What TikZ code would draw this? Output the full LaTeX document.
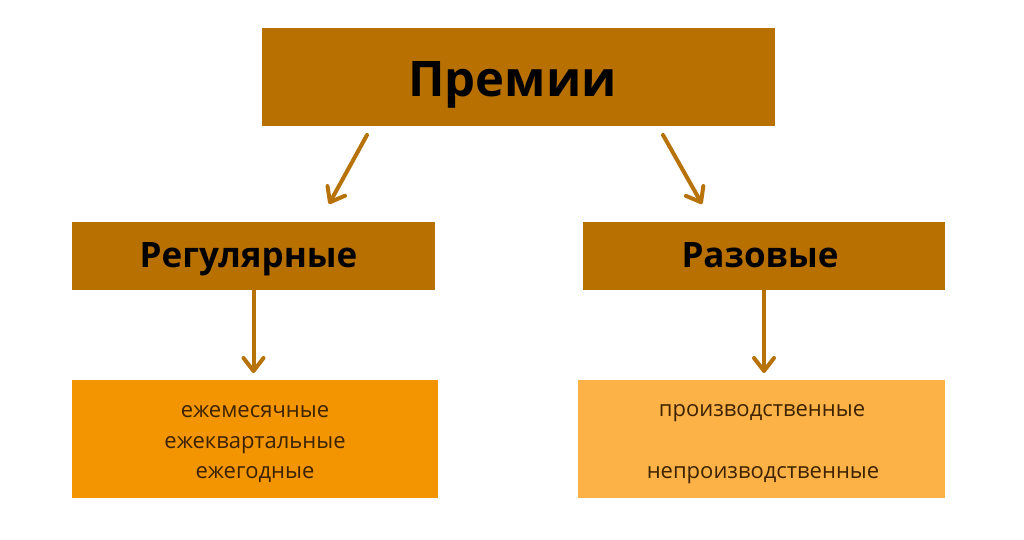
\documentclass[tikz,border=0pt]{standalone}
\usepackage{fontspec}
\setmainfont{Open Sans}
\usetikzlibrary{arrows.meta}
\definecolor{hdr}{HTML}{B87000}
\definecolor{lbox}{HTML}{F29500}
\definecolor{rbox}{HTML}{FCB246}
\definecolor{arr}{HTML}{B8720A}
\definecolor{txt}{HTML}{3D2300}
\begin{document}
\begin{tikzpicture}[x=1pt,y=-1pt,
  hbox/.style={fill=hdr,draw=none,inner sep=0pt},
  lowbox/.style={draw=none,inner sep=0pt},
  htxt/.style={anchor=base,inner sep=0pt,text=black},
  ltxt/.style={anchor=base,inner sep=0pt,text=txt,font=\fontsize{22}{26}\selectfont},
  conn/.style={draw=arr,line width=4pt,-{Straight Barb[length=13pt,width=20pt,line width=4pt,round]}}]
\useasboundingbox[fill=white] (0,0) rectangle (1024,539);
\node[hbox,minimum width=513pt,minimum height=98pt] (top) at (518.5,77) {};
\node[hbox,minimum width=363pt,minimum height=68pt] (reg) at (253.5,256) {};
\node[hbox,minimum width=362pt,minimum height=68pt] (raz) at (764,256) {};
\node[lowbox,fill=lbox,minimum width=366pt,minimum height=118pt] (lb) at (255,439) {};
\node[lowbox,fill=rbox,minimum width=367pt,minimum height=118pt] (rb) at (761.5,439) {};
\node[htxt,font=\fontsize{49}{52}\bfseries] (ttop) at (512.5,96) {Премии};
\node[htxt,font=\fontsize{35}{38}\bfseries] (treg) at (248.5,267) {Регулярные};
\node[htxt,font=\fontsize{35}{38}\bfseries] (traz) at (760,267) {Разовые};
\node[ltxt] (l1) at (255,417) {ежемесячные};
\node[ltxt] (l2) at (255,448) {ежеквартальные};
\node[ltxt] (l3) at (255,478) {ежегодные};
\node[ltxt] (r1) at (762,416) {производственные};
\node[ltxt] (r2) at (763,478) {непроизводственные};
\coordinate (a1s) at (367,135);
\coordinate (a1e) at (329,204);
\coordinate (a2s) at (663,135);
\coordinate (a2e) at (702,204);
\draw[conn,line cap=round] (a1s) -- (a1e);
\draw[conn,line cap=round] (a2s) -- (a2e);
\draw[conn] (reg.south) ++(0,0) coordinate (a3s) -- (a3s |- 0,373) coordinate (a3e);
\draw[conn] (raz.south) ++(0,0) coordinate (a4s) -- (a4s |- 0,373) coordinate (a4e);
\end{tikzpicture}
\end{document}
